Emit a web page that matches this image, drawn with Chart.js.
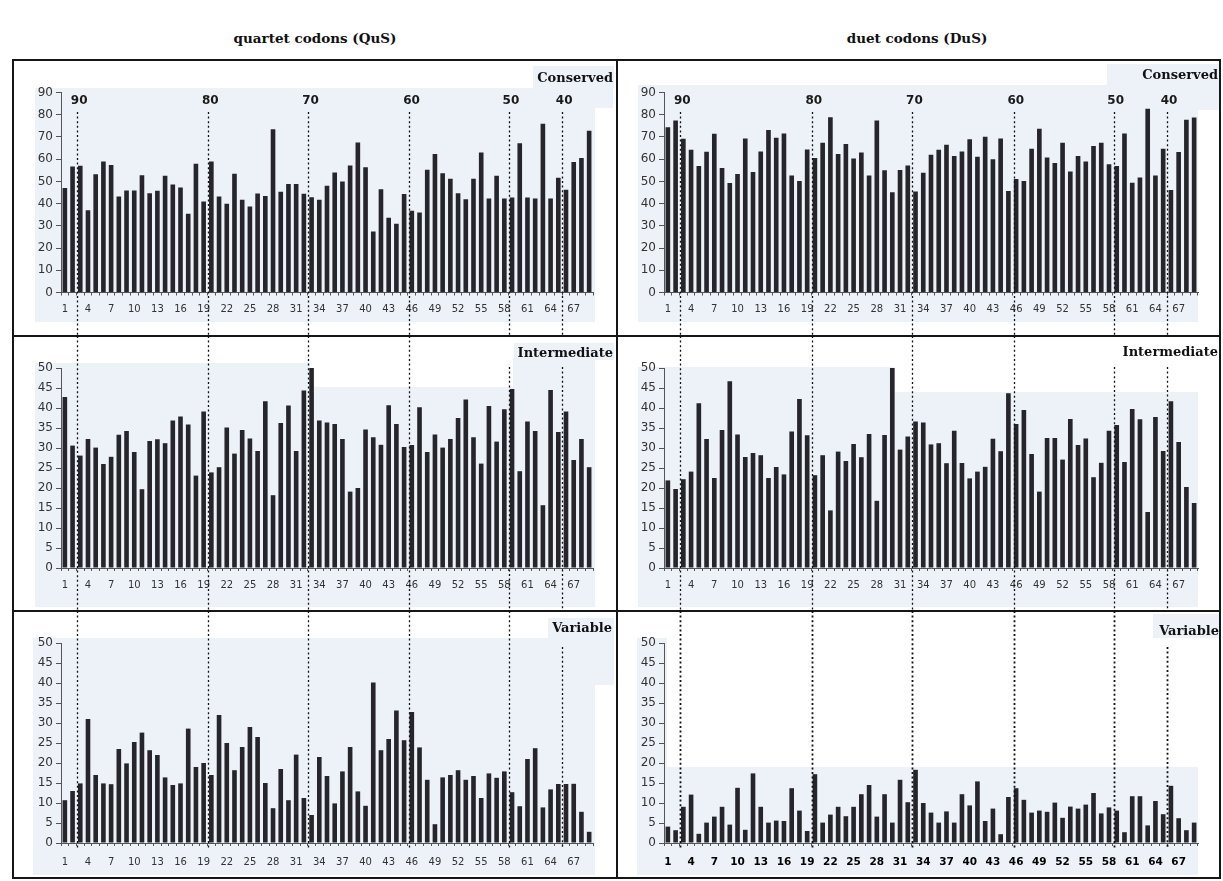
<!DOCTYPE html>
<html>
<head>
<meta charset="utf-8">
<script src="https://cdn.jsdelivr.net/npm/chart.js@4.4.1/dist/chart.umd.min.js"></script>
<style>
  body { margin: 0; background: #fff; width: 1223px; height: 881px; position: relative; overflow: hidden; }
  .tint { position: absolute; background: #edf2f9; }
  .rule { position: absolute; background: #161616; }
  .hdr { position: absolute; font: bold 13.5px "DejaVu Serif", serif; color: #111; transform: translate(-50%, -50%); white-space: nowrap; }
  .tag { position: absolute; font: bold 13px "DejaVu Serif", serif; color: #111; transform: translate(-100%, -50%); white-space: nowrap; }
  canvas { position: absolute; }
</style>
</head>
<body>
<script>
// codon positions along the x axis
const positions = ['1','2','3','4','5','6','7','8','9','10','11','12','13','14','15','16','17','18','19','20',
  '21','22','23','24','25','26','27','28','29','30','31','32','33','34','35','36','37','38','39','40',
  '41','42','43','44','45','46','47','48','49','50','51','52','53','54','55','56','57','58','59','60',
  '61','62','63','64','65','66','67','68','69'];
// positions that carry a printed tick label
const labelledPositions = ['1','4','7','10','13','16','19','22','25','28','31','34','37','40','43','46','49','52','55','58','61','64','67'];

// quartet codons (QuS)
const qusConserved = [47,56.7,57,37,53.2,59,57.4,43.2,45.9,45.9,52.8,44.7,45.8,52.5,48.6,47.3,35.4,57.9,41,59,
  43.2,39.9,53.4,41.7,38.7,44.6,43.4,73.5,45.3,48.8,48.8,44.4,42.9,41.7,48,54,50,57.2,67.5,56.4,
  27.5,46.5,33.6,30.9,44.3,36.8,36,55.2,62.3,53.7,51.2,44.7,42,51.2,63,42.3,52.5,42.3,42.8,67.2,
  42.8,42.3,75.9,42.3,51.6,46.2,58.7,60.5,72.8];
const qusIntermediate = [42.75,30.6,28.1,32.25,30.1,26,27.8,33.3,34.25,29,19.7,31.75,32.2,31.2,36.9,37.9,35.9,23.1,39.1,23.9,
  25.2,35.1,28.6,34.5,32.4,29.25,41.7,18.2,36.25,40.6,29.25,44.4,50,36.9,36.4,36,32.25,19.1,20,34.6,
  32.7,30.8,40.7,36,30.25,30.75,40.2,29,33.4,30.1,32.25,37.5,42.1,32.7,26.1,40.5,31.6,39.7,44.75,24.2,
  36.6,34.25,15.7,44.5,34,39.1,27,32.25,25.2];
const qusVariable = [10.7,13,14.9,31,17,14.9,14.7,23.5,19.9,25.25,27.6,23.2,22,16.4,14.5,14.9,28.6,19,20,17,
  32,25,18.2,24,29,26.5,15,8.7,18.5,10.7,22.1,11.25,7,21.5,16.75,9.9,17.9,24,12.9,9.3,
  40.1,23.2,26,33.1,25.7,32.75,23.9,15.8,4.7,16.4,17,18.2,15.8,16.75,11.25,17.4,16.3,17.9,12.7,9.2,
  21,23.7,8.9,13.4,14.75,14.75,14.8,7.8,2.8];

// duet codons (DuS)
const dusConserved = [74.4,77.4,69.2,64.2,56.9,63.3,71.4,56,49.3,53.3,69.3,54.2,63.5,73.1,69.6,71.6,52.6,50.2,64.4,60.5,
  67.4,78.9,62.3,66.8,60.3,63,52.6,77.4,55,45.1,55.1,57.2,45.5,53.9,62,64.2,66.5,61.4,63.5,69,
  61.1,70.1,60,69.3,45.7,51.1,50.2,64.7,73.7,60.8,58.3,67.4,54.4,61.4,59,65.9,67.4,57.7,56.9,71.6,
  49.4,51.8,82.7,52.7,64.7,46.1,63.2,77.7,78.8];
const dusIntermediate = [21.9,19.75,22.2,24.1,41.2,32.25,22.5,34.5,46.7,33.4,27.75,28.75,28.2,22.5,25.25,23.4,34.1,42.25,33.2,23.2,
  28.2,14.4,29.1,26.75,31,27.7,33.5,16.8,33.25,50,29.6,32.9,36.6,36.4,30.9,31.2,26.2,34.3,26.25,22.4,
  24.1,25.3,32.3,29.2,43.7,36,39.5,28.5,19.1,32.5,32.5,27.1,37.25,30.75,32.4,22.7,26.3,34.3,35.75,26.5,
  39.75,37.2,14,37.75,29.25,41.7,31.5,20.25,16.25];
const dusVariable = [4.1,3.2,9.05,12.1,2.3,5.1,6.6,9.05,4.6,13.8,3.3,17.4,9.05,5.1,5.6,5.5,13.7,8.1,3,17.2,
  5.1,7.1,9.05,6.7,9.05,12.2,14.5,6.6,12.2,5.1,15.8,10.2,18.3,10,7.6,5.1,7.9,5.1,12.2,9.4,
  15.4,5.5,8.6,2.2,11.5,13.7,10.8,7.6,8.1,7.8,10.1,6.3,9.1,8.6,9.6,12.5,7.4,8.9,8.1,2.7,
  11.7,11.7,4.4,10.5,7.2,14.3,6.2,3.2,5.1];

// reference markers running down through the panels (marker name and position along the axis)
const markerNames = ['90','80','70','60','50','40'];
const markerPositions = [2.6, 19.6, 32.6, 45.7, 58.6, 65.5];

// axis ranges per row
const rowMax = [90, 50, 50];
const rowStep = [10, 5, 5];
const rowTitles = ['Conserved', 'Intermediate', 'Variable'];
const columnTitles = ['quartet codons (QuS)', 'duet codons (DuS)'];
</script>
<script>
// ---------- page furniture ----------
function box(cls, x0, y0, x1, y1) {
  const d = document.createElement('div');
  d.className = cls;
  d.style.left = x0 + 'px'; d.style.top = y0 + 'px';
  d.style.width = (x1 - x0) + 'px'; d.style.height = (y1 - y0) + 'px';
  document.body.appendChild(d);
}
function text(cls, x, y, s) {
  const d = document.createElement('div');
  d.className = cls; d.textContent = s;
  d.style.left = x + 'px'; d.style.top = y + 'px';
  document.body.appendChild(d);
}

// pale panel backgrounds
[
  [35, 88, 613, 108], [35, 108, 595, 322], [533, 66, 614, 88],
  [638, 85, 1219, 110], [638, 110, 1198, 322], [1107, 64, 1219, 85],
  [35, 363, 310, 607], [310, 387, 595, 607], [513, 358, 595, 387], [514, 343, 614, 360],
  [638, 367, 895, 607], [895, 392, 1198, 607],
  [33, 638, 595, 875], [548, 618, 614, 685],
  [637, 638, 667, 767], [637, 767, 1198, 875], [1153, 614, 1219, 638]
].forEach(r => box('tint', ...r));

// frame
box('rule', 12, 59, 1221, 61);
box('rule', 12, 877, 1221, 879);
box('rule', 12, 59, 14, 879);
box('rule', 1219, 59, 1221, 879);
box('rule', 616, 59, 617.5, 879);
box('rule', 12, 335, 1221, 336.5);
box('rule', 12, 610, 1221, 611.5);

text('hdr', 315, 38, columnTitles[0]);
text('hdr', 917, 38, columnTitles[1]);

// ---------- charts ----------
const guidePlugin = {
  id: 'guides',
  afterDatasetsDraw(chart, args, o) {
    const ctx = chart.ctx, xs = chart.scales.x;
    ctx.save();
    ctx.strokeStyle = '#111';
    ctx.lineWidth = o.width;
    ctx.setLineDash([2, 2.6]);
    o.lines.forEach((g, i) => {
      const px = Math.round(xs.getPixelForValue(g - 1)) + 0.5;
      ctx.beginPath();
      ctx.moveTo(px, o.from[i]);
      ctx.lineTo(px, o.to);
      ctx.stroke();
    });
    if (o.names) {
      ctx.setLineDash([]);
      ctx.fillStyle = '#1a1a1a';
      ctx.font = 'bold 12px "DejaVu Sans"';
      ctx.textAlign = 'center';
      ctx.textBaseline = 'middle';
      o.lines.forEach((g, i) => {
        const px = xs.getPixelForValue(g - 1);
        ctx.fillText(o.names[i], px + 2, o.nameY);
      });
    }
    ctx.restore();
  }
};

const rowTop = [60, 336, 611];
const rowHeight = [276, 275, 268];
const plotTop = [32.5, 32, 32];
const plotBottom = [232.5, 232, 232];
const tagY = [[76.7, 74], [351.7, 350.7], [626.7, 630]];
const tagRight = [[613, 1218], [613, 1218], [612, 1219]];

const panels = [
  { col: 0, row: 0, values: qusConserved },
  { col: 1, row: 0, values: dusConserved },
  { col: 0, row: 1, values: qusIntermediate },
  { col: 1, row: 1, values: dusIntermediate },
  { col: 0, row: 2, values: qusVariable },
  { col: 1, row: 2, values: dusVariable }
];

panels.forEach(p => {
  const left = p.col === 0 ? 13 : 617;
  const width = p.col === 0 ? 604 : 603;
  const yWidth = p.col === 0 ? 48 : 47;
  const padRight = p.col === 0 ? 24 : 22;
  const h = rowHeight[p.row];
  const cv = document.createElement('canvas');
  cv.width = width; cv.height = h;
  cv.style.left = left + 'px'; cv.style.top = rowTop[p.row] + 'px';
  cv.style.width = width + 'px'; cv.style.height = h + 'px';
  document.body.appendChild(cv);

  // where each marker line starts inside this panel
  let from;
  if (p.row === 0) from = [52, 52, 52, 52, 52, 52];
  else if (p.row === 1) from = [0, 0, 0, 0, 31, 31];
  else from = [0, 0, 0, 0, 0, 36];
  const to = p.row === 2 ? 238 : h;
  const boldTicks = p.row === 2 && p.col === 1;

  new Chart(cv, {
    type: 'bar',
    data: {
      labels: positions,
      datasets: [{
        data: p.values,
        backgroundColor: '#25252b',
        borderWidth: 0,
        barPercentage: 0.6,
        categoryPercentage: 1.0
      }]
    },
    plugins: [guidePlugin],
    options: {
      responsive: false,
      animation: false,
      devicePixelRatio: 1,
      layout: { padding: { top: plotTop[p.row], right: padRight, left: 0, bottom: 0 } },
      plugins: {
        legend: { display: false },
        tooltip: { enabled: false },
        guides: {
          lines: markerPositions,
          from: from,
          to: to,
          width: boldTicks ? 1.8 : 1.3,
          names: p.row === 0 ? markerNames : null,
          nameY: 40.7
        }
      },
      scales: {
        x: {
          offset: true,
          grid: { display: true, drawOnChartArea: false, drawTicks: true, tickLength: 3, color: '#555', offset: true },
          border: { display: true, color: '#555', width: 1 },
          ticks: {
            autoSkip: false, maxRotation: 0, minRotation: 0,
            padding: p.row === 2 ? 10 : 8,
            color: boldTicks ? '#000' : '#333',
            font: { family: 'DejaVu Sans', size: boldTicks ? 10.5 : 10, weight: boldTicks ? 'bold' : 'normal' },
            callback: function (v, i) {
              const lab = positions[i];
              return labelledPositions.includes(lab) ? lab : '';
            }
          },
          afterFit: s => { s.height = h - plotBottom[p.row]; }
        },
        y: {
          min: 0, max: rowMax[p.row],
          grid: { display: true, drawOnChartArea: false, drawTicks: true, tickLength: 5, color: '#555' },
          border: { display: true, color: '#555', width: 1 },
          ticks: {
            stepSize: rowStep[p.row], padding: 3, color: '#333',
            font: { family: 'DejaVu Sans', size: 12 }
          },
          afterFit: s => { s.width = yWidth; }
        }
      }
    }
  });

  text('tag', tagRight[p.row][p.col], tagY[p.row][p.col], rowTitles[p.row]);
});
</script>
</body>
</html>
